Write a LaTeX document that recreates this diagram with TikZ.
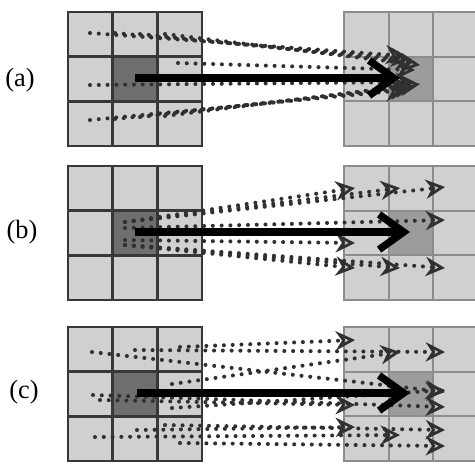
\documentclass[tikz,border=0pt]{standalone}
\usepackage{fontspec}
\setmainfont{Liberation Serif}
\usepackage{tikz}
\usetikzlibrary{arrows.meta}

\definecolor{cellfill}{HTML}{D0D0D0}
\definecolor{darkcell}{HTML}{6E6E6E}
\definecolor{midcell}{HTML}{9C9C9C}
\definecolor{leftline}{HTML}{383838}
\definecolor{rightline}{HTML}{8C8C8C}
\definecolor{dotgray}{HTML}{303030}

\tikzset{
  lbl/.style={font=\fontsize{15}{17}\selectfont, inner sep=0pt},
  leftgrid/.style={draw=leftline, line width=1.4pt},
  rightgrid/.style={draw=rightline, line width=1.1pt},
  dotarrow/.style={draw=dotgray, line width=2.3pt, line cap=round,
    dash pattern=on 0pt off 5pt,
    -{Stealth[open, length=11pt, width=11pt, line width=1.6pt]}},
  mainarrow/.style={line width=4.2pt, -{Straight Barb[length=14pt, width=20pt]}}
}

% one 3x3 block: #1,#2 top left corner, #3 grid style, #4 centre colour
\newcommand{\cellblock}[4]{
  \foreach \i in {0,1,2}
    \foreach \j in {0,1,2}
      \filldraw[#3, fill=cellfill] ({#1+\i*44.67},{#2+\j*44.67}) rectangle ++(44.67,44.67);
  \filldraw[#3, fill=#4] ({#1+44.67},{#2+44.67}) rectangle ++(44.67,44.67);
}

\begin{document}
\begin{tikzpicture}[x=0.02cm, y=-0.02cm]
    \useasboundingbox (0,0) rectangle (475,471);

    % grids
    \cellblock{68}{12}{leftgrid}{darkcell}
    \cellblock{344}{12}{rightgrid}{midcell}
    \cellblock{68}{166}{leftgrid}{darkcell}
    \cellblock{344}{166}{rightgrid}{midcell}
    \cellblock{68}{327}{leftgrid}{darkcell}
    \cellblock{344}{327}{rightgrid}{midcell}

    % labels
    \node[lbl] (lab-a) at (20,80) {(a)};
    \node[lbl] (lab-b) at (22,232) {(b)};
    \node[lbl] (lab-c) at (24,392) {(c)};

    % (a) every neighbour onto the centre
    \foreach \n/\sx/\sy/\tx/\ty in {1/90/33/405/56, 2/115/33/410/59, 3/140/34/415/62,
        4/165/34/420/65, 5/178/63/415/70, 6/90/85/415/82, 7/90/120/405/90,
        8/115/119/410/88, 9/140/117/415/86, 10/165/116/420/84} {
      \coordinate (a-s\n) at (\sx,\sy);
      \coordinate (a-t\n) at (\tx,\ty);
      \draw[dotarrow] (a-s\n) -- (a-t\n);
    }
    \coordinate (a-from) at (135,78);
    \coordinate (a-to) at (400,78);
    \draw[mainarrow] (a-from) -- (a-to);

    % (b) centre out to every neighbour
    \foreach \n/\sx/\sy/\tx/\ty in {1/125/222/355/188, 2/125/222/400/188, 3/125/222/445/187,
        4/125/228/445/220, 5/125/240/355/243, 6/125/245/355/268,
        7/125/245/400/268, 8/125/245/445/268} {
      \coordinate (b-s\n) at (\sx,\sy);
      \coordinate (b-t\n) at (\tx,\ty);
      \draw[dotarrow] (b-s\n) -- (b-t\n);
    }
    \coordinate (b-from) at (135,232);
    \coordinate (b-to) at (410,232);
    \draw[mainarrow] (b-from) -- (b-to);

    % (c) neighbours onto neighbours
    \foreach \n/\sx/\sy/\tx/\ty in {1/180/347/355/340, 2/135/350/445/352, 3/92/352/445/392,
        4/172/384/400/352, 5/93/395/445/407, 6/100/400/355/405, 7/172/408/445/390,
        8/137/430/355/427, 9/95/437/400/435, 10/165/425/445/430, 11/180/443/445/446} {
      \coordinate (c-s\n) at (\sx,\sy);
      \coordinate (c-t\n) at (\tx,\ty);
      \draw[dotarrow] (c-s\n) -- (c-t\n);
    }
    \coordinate (c-from) at (137,393);
    \coordinate (c-to) at (410,393);
    \draw[mainarrow] (c-from) -- (c-to);
\end{tikzpicture}
\end{document}
